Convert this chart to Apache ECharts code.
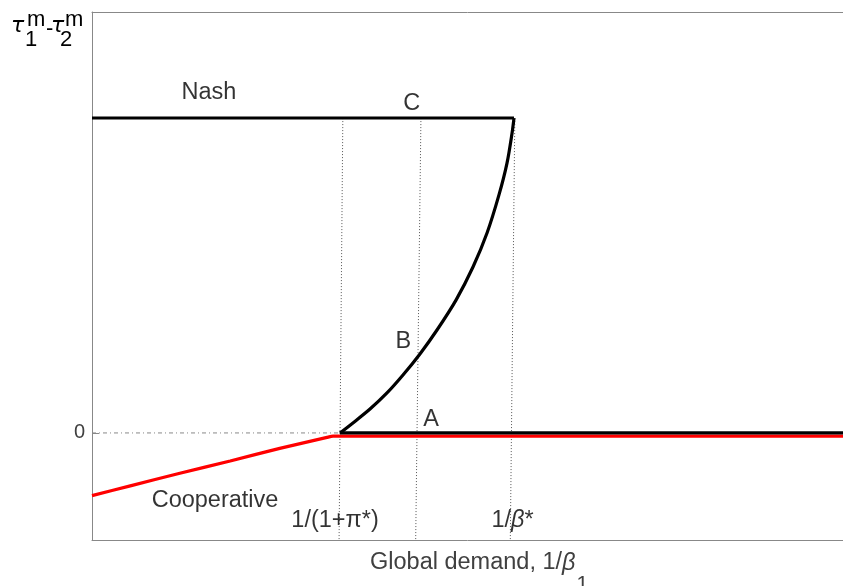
<!DOCTYPE html>
<html>
<head>
<meta charset="utf-8">
<script src="https://cdn.jsdelivr.net/npm/echarts@6/dist/echarts.min.js"></script>
<style>
html,body{margin:0;padding:0;background:#fff;}
#chart{width:843px;height:586px;}
</style>
</head>
<body>
<div id="chart"></div>
<script>
// ---- data (arbitrary units) ----
const nashFlatX = [0, 5.619];
const nashFlatY = [1, 1];
const nashCurveX = [5.619, 5.593, 5.526, 5.419, 5.260, 5.073, 4.847, 4.594, 4.367, 4.141, 3.928, 3.702, 3.475, 3.302];
const nashCurveY = [1.000, 0.952, 0.857, 0.756, 0.635, 0.527, 0.422, 0.327, 0.251, 0.184, 0.127, 0.076, 0.032, 0.000];
const aLineX = [3.302, 10];
const aLineY = [0, 0];
const coopX = [0, 0.51, 1.17, 1.84, 2.50, 3.13, 3.21, 10];
const coopY = [-0.199, -0.168, -0.128, -0.089, -0.049, -0.014, -0.010, -0.010];
const zeroRefX = [0, 3.30];
const zeroRefY = [0, 0];
const guideTopY = 1;
const guideBottomY = -0.34;
const guide1X = [3.34, 3.29];
const guide2X = [4.38, 4.31];
const guide3X = [5.63, 5.57];
const labelNames = ['Nash', 'C', 'B', 'A', 'Cooperative', '1/(1+π*)', '1/β*'];
const labelX = [1.558, 4.257, 4.145, 4.514, 1.638, 3.236, 5.60];
const labelY = [1.080, 1.046, 0.291, 0.042, -0.215, -0.278, -0.278];
const yTicks = [0];

const FONT = '"Liberation Sans", Arial, Helvetica, sans-serif';
const GREEK = '"DejaVu Sans", sans-serif';
const zip = (xs, ys) => xs.map((x, i) => [x, ys[i]]);

const chart = echarts.init(document.getElementById('chart'), null, {renderer: 'canvas'});

function lineSeries(name, data, color, width, extra) {
  return Object.assign({
    name, type: 'line', data, showSymbol: false, symbol: 'none',
    lineStyle: {color, width}, animation: false, silent: true
  }, extra || {});
}
function guide(xs) {
  return lineSeries('guide', [[xs[0], guideTopY], [xs[1], guideBottomY]], '#555', 1, {lineStyle: {color: '#555', width: 1, type: [1, 2]}, z: 1});
}

// text measuring for composed titles
const ctx = document.createElement('canvas').getContext('2d');
function tw(text, size, italic, fam) {
  ctx.font = (italic ? 'italic ' : '') + size + 'px ' + (fam || FONT);
  return ctx.measureText(text).width;
}
function gtext(text, x, y, size, color, italic, fam) {
  return {type: 'text', x, y, silent: true,
    style: {text, fill: color, font: (italic ? 'italic ' : '') + size + 'px ' + (fam || FONT), textAlign: 'left', textVerticalAlign: 'middle'}};
}

// y title: tau_1^m - tau_2^m
const yt = [
  gtext('τ', 11, 26, 22, '#000', true, GREEK),
  gtext('m', 27, 20, 22, '#000'),
  gtext('1', 25, 40, 22, '#000'),
  gtext('-', 46, 29, 22, '#000'),
  gtext('τ', 51, 26, 22, '#000', true, GREEK),
  gtext('m', 65, 20, 22, '#000'),
  gtext('2', 60, 40, 22, '#000')
];

// x title
const xs0 = 370;
const part1 = 'Global demand, 1/';
const XS = 23.5;
const w1 = tw(part1, XS);
const wb = tw('β', XS, true);
const xt = [
  gtext(part1, xs0, 563, XS, '#404040'),
  gtext('β', xs0 + w1, 563, XS, '#404040', true),
  gtext('1', xs0 + w1 + wb + 1, 584, 21, '#404040')
];

const LS = 23.5;
const labelRich = {
  i: {fontStyle: 'italic', fontSize: LS, color: '#000', fontFamily: FONT},
  n: {fontSize: LS, color: '#000', fontFamily: FONT}
};

const option = {
  backgroundColor: '#fff',
  animation: false,
  grid: {left: 92, right: 0, top: 12, bottom: 46, containLabel: false},
  xAxis: [
    {type: 'value', min: 0, max: 10, position: 'bottom',
      axisLine: {show: true, onZero: false, lineStyle: {color: '#888', width: 1}},
      axisTick: {show: false}, axisLabel: {show: false}, splitLine: {show: false}},
    {type: 'value', min: 0, max: 10, position: 'top',
      axisLine: {show: true, onZero: false, lineStyle: {color: '#888', width: 1}},
      axisTick: {show: false}, axisLabel: {show: false}, splitLine: {show: false}}
  ],
  yAxis: {
    type: 'value', min: -0.34, max: 1.337,
    axisLine: {show: true, onZero: false, lineStyle: {color: '#888', width: 1}},
    axisTick: {show: true, inside: true, length: 7, customValues: yTicks, lineStyle: {color: '#888'}},
    axisLabel: {show: true, customValues: yTicks, fontSize: 20, color: '#404040', margin: 7, fontFamily: FONT,
      formatter: v => String(v)},
    splitLine: {show: false}
  },
  graphic: yt.concat(xt),
  series: [
    lineSeries('zero', zip(zeroRefX, zeroRefY), '#888', 1, {lineStyle: {color: '#888', width: 1, type: [4, 3, 1, 3]}, z: 1}),
    guide(guide1X), guide(guide2X), guide(guide3X),
    lineSeries('Cooperative', zip(coopX, coopY), '#ff0000', 3.2, {z: 3, smooth: 0.2}),
    lineSeries('A', zip(aLineX, aLineY), '#000', 3.2, {z: 4}),
    lineSeries('NashFlat', zip(nashFlatX, nashFlatY), '#000', 3, {z: 4}),
    lineSeries('NashCurve', zip(nashCurveX, nashCurveY), '#000', 3.2, {z: 4, smooth: 0.3}),
    {
      type: 'scatter', symbolSize: 0, silent: true, z: 5,
      data: labelNames.map((n, i) => ({name: n, value: [labelX[i], labelY[i]]})),
      label: {
        show: true, position: 'inside', fontSize: LS, color: '#000', fontFamily: FONT,
        formatter: p => p.name === '1/β*' ? '{n|1/}{i|β}{n|*}' : '{n|' + p.name + '}',
        rich: labelRich
      }
    }
  ]
};
chart.setOption(option);
</script>
</body>
</html>
